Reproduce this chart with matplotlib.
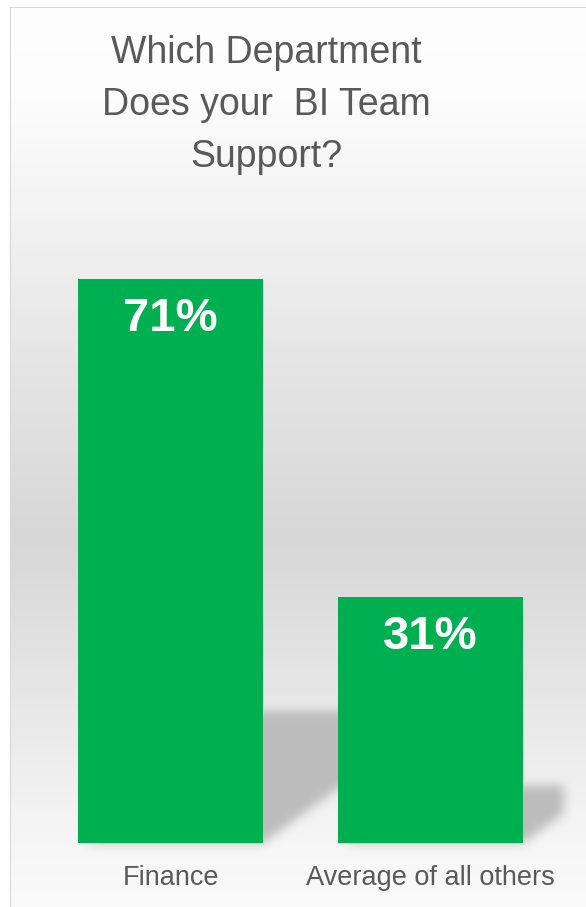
import numpy as np
import matplotlib
matplotlib.use("Agg")
import matplotlib.pyplot as plt
from matplotlib.path import Path

# data
categories = ["Finance", "Average of all others"]
values = [71, 31]
value_labels = ["71%", "31%"]
title = "Which Department\nDoes your  BI Team\nSupport?"

green = "#00B050"
text_grey = "#595959"

W, H, DPI = 586, 907, 100
fig = plt.figure(figsize=(W / DPI, H / DPI), dpi=DPI)
ax = fig.add_axes([0, 0, 1, 1])
ax.set_axis_off()

# axis limits chosen so the baseline sits near the bottom and bars leave room for the title
ax.set_xlim(-0.656, 1.598)
ax.set_ylim(-8.06, 106.2)
bar_w = 0.7115

# background: vertical grey gradient, thin frame, soft cast shadows
py = np.arange(H) + 0.5
stops_y = [0, 100, 200, 350, 540, 690, 843, 907]
stops_v = [254, 252, 244, 230, 215, 230, 246, 250]
grad = np.interp(py, stops_y, stops_v) / 255.0
bg = np.ones((H, W, 3)) * grad[:, None, None]
bg[:7, :, :] = 1.0
bg[:, :10, :] = 1.0
bg[7, 10:, :] = 0.85
bg[7:, 10, :] = 0.85

fig.canvas.draw()
tr = ax.transData
xx, yy = np.meshgrid(np.arange(W) + 0.5, np.arange(H) + 0.5)
pts = np.column_stack([xx.ravel(), (H - yy).ravel()])  # display coords, origin bottom-left
mask = np.zeros(H * W)
for i, v in enumerate(values):
    (x0, b), (x1, t) = tr.transform([(i - bar_w / 2, 0), (i + bar_w / 2, v)])
    h = t - b
    d, e, s = 0.165 * h, 0.12 * h, 0.235 * h
    poly = Path([(x0 + 10, b), (x1, b), (x1 + d, b + e), (x1 + d, b + s),
                 (x0 + d, b + s), (x0 + 10, b)])
    mask = np.maximum(mask, poly.contains_points(pts).astype(float))
mask = mask.reshape(H, W)


def box_blur(a, r):
    k = np.ones(2 * r + 1) / (2 * r + 1)
    a = np.apply_along_axis(lambda m: np.convolve(m, k, mode="same"), 0, a)
    a = np.apply_along_axis(lambda m: np.convolve(m, k, mode="same"), 1, a)
    return a


mask = box_blur(box_blur(mask, 6), 5)
shadow_col = 0.74
bg = bg * (1 - mask[:, :, None]) + shadow_col * mask[:, :, None]

ax.imshow(bg, extent=(*ax.get_xlim(), *ax.get_ylim()), origin="upper",
          aspect="auto", zorder=0, interpolation="nearest")

x = np.arange(len(categories))
ax.bar(x, values, width=bar_w, color=green, zorder=3)

for i, v in enumerate(values):
    ax.text(i, v - 5.0, value_labels[i], ha="center", va="center", color="white",
            fontsize=34, fontweight="bold", family="Liberation Sans", zorder=4)
    ax.text(i, -4.4, categories[i], ha="center", va="center", color=text_grey,
            fontsize=19.5, family="Liberation Sans", zorder=4)

fig.text(266 / W, 1 - 105 / H, title, ha="center", va="center", color=text_grey,
         fontsize=27, family="Liberation Sans", linespacing=1.58)

fig.savefig("out.png", dpi=DPI)
